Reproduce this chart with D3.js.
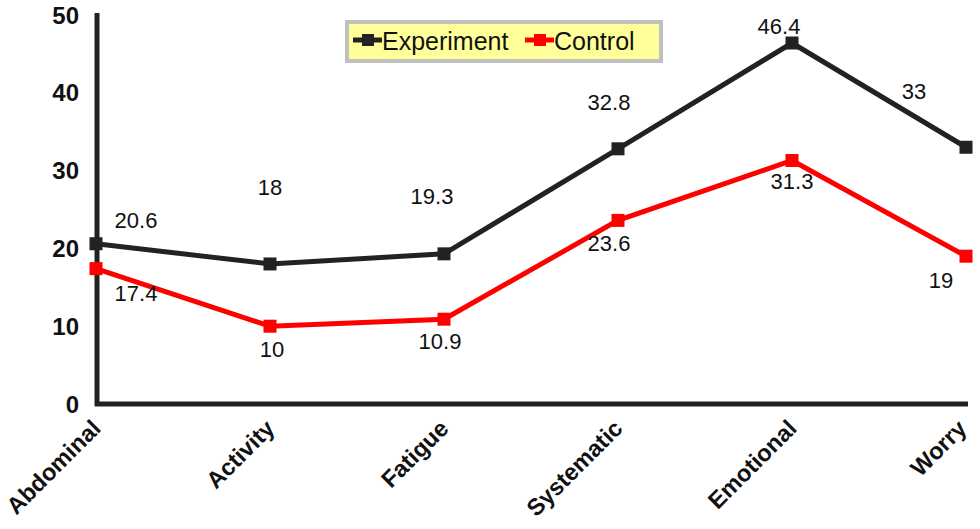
<!DOCTYPE html>
<html><head><meta charset="utf-8">
<script src="https://cdn.jsdelivr.net/npm/d3@7"></script>
<style>body{margin:0;background:#fff}svg{display:block}</style>
</head><body>
<svg id="c" width="980" height="529"></svg>
<script>
const categories = ["Abdominal","Activity","Fatigue","Systematic","Emotional","Worry"];
const experiment = [20.6, 18, 19.3, 32.8, 46.4, 33];
const control = [17.4, 10, 10.9, 23.6, 31.3, 19];
const yTicks = [0,10,20,30,40,50];

// label offsets (style)
const expOff = [[40,-24],[0,-77],[-12,-58],[-9,-47],[-13,-17],[-52,-56]];
const ctlOff = [[40,24],[2,23],[-4,22],[-9,23],[0,21],[-25,24]];

const svg = d3.select("#c");
const x = d3.scalePoint().domain(categories).range([96,966]);
const y = d3.scaleLinear().domain([0,50]).range([404,15]);
const font = "'Liberation Sans', Arial, sans-serif";

// y tick labels
svg.append("g").selectAll("text").data(yTicks).join("text")
  .attr("x",79).attr("y",d=>y(d)).attr("dy","0.36em")
  .attr("text-anchor","end").attr("font-family",font).attr("font-weight","bold")
  .attr("font-size",24).attr("fill","#111").text(d=>d);

// axes lines
svg.append("line").attr("x1",97).attr("x2",97).attr("y1",13).attr("y2",406)
  .attr("stroke","#222").attr("stroke-width",5);
svg.append("line").attr("x1",95).attr("x2",968).attr("y1",404).attr("y2",404)
  .attr("stroke","#222").attr("stroke-width",5);

// category labels
svg.append("g").selectAll("text").data(categories).join("text")
  .attr("transform",d=>`translate(${Math.min(x(d)+6,968)},${430}) rotate(-45)`)
  .attr("text-anchor","end")
  .attr("font-family",font).attr("font-weight","bold").attr("font-size",23.5)
  .attr("fill","#111").text(d=>d);

const line = d3.line().x((d,i)=>x(categories[i])).y(d=>y(d));
function series(vals,color,offs){
  const g = svg.append("g");
  g.append("path").datum(vals).attr("d",line).attr("fill","none")
    .attr("stroke",color).attr("stroke-width",5).attr("stroke-linejoin","miter");
  g.selectAll("rect").data(vals).join("rect")
    .attr("x",(d,i)=>x(categories[i])-6.5).attr("y",d=>y(d)-6.5)
    .attr("width",13).attr("height",13).attr("fill",color);
  g.selectAll("text").data(vals).join("text")
    .attr("x",(d,i)=>x(categories[i])+offs[i][0]).attr("y",(d,i)=>y(d)+offs[i][1])
    .attr("dy","0.36em").attr("text-anchor","middle")
    .attr("font-family",font).attr("font-size",22).attr("fill","#111").text(d=>d);
}
series(experiment,"#222222",expOff);
series(control,"#ff0000",ctlOff);

// legend
const lg = svg.append("g");
lg.append("rect").attr("x",347).attr("y",22).attr("width",314).attr("height",39)
  .attr("fill","#ffff99").attr("stroke","#c0c0c0").attr("stroke-width",4);
const items = [{name:"Experiment",color:"#222222",x:353},{name:"Control",color:"#ff0000",x:525}];
items.forEach(it=>{
  lg.append("line").attr("x1",it.x).attr("x2",it.x+29).attr("y1",40).attr("y2",40)
    .attr("stroke",it.color).attr("stroke-width",5);
  lg.append("rect").attr("x",it.x+9).attr("y",34).attr("width",12).attr("height",12).attr("fill",it.color);
  lg.append("text").attr("x",it.x+29).attr("y",50)
    .attr("font-family",font).attr("font-size",25).attr("fill","#111").text(it.name);
});
</script>
</body></html>
